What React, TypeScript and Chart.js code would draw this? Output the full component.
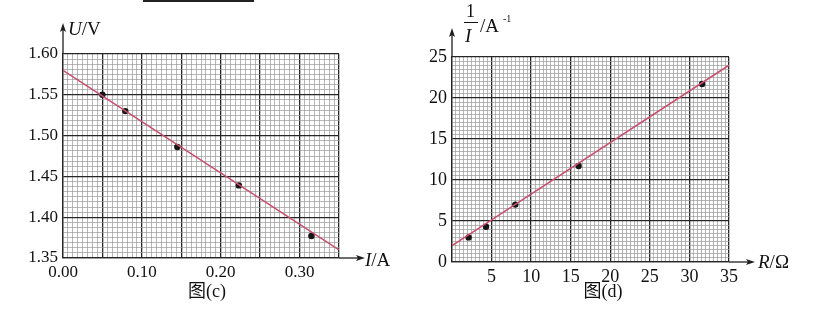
import { useEffect, useRef } from 'react';
import { Chart, registerables } from 'chart.js';

Chart.register(...registerables);

// ---------- Figure (c): U vs I ----------
const currentI = [0.05, 0.079, 0.145, 0.223, 0.315];
const voltageU = [1.55, 1.53, 1.486, 1.439, 1.377];
const fitI = [0, 0.35];
const fitU = [1.58, 1.36];
const cXTickLabels = ['0.00', '0.10', '0.20', '0.30'];
const cYTickLabels = ['1.35', '1.40', '1.45', '1.50', '1.55', '1.60'];

// ---------- Figure (d): 1/I vs R ----------
const resistanceR = [2.1, 4.3, 8.0, 16.0, 31.6];
const inverseI = [3.0, 4.3, 7.0, 11.7, 21.7];
const fitR = [0, 35];
const fitInvI = [2.0, 24.0];
const dXTickLabels = ['5', '10', '15', '20', '25', '30', '35'];
const dYTickLabels = ['0', '5', '10', '15', '20', '25'];

const SERIF = '"Liberation Serif", "Times New Roman", serif';
const LINE_COLOR = '#c8506f';
const MAJOR = '#262626';
const MINOR = '#9a9a9a';

const arrowPlugin = {
  id: 'axisArrows',
  afterDraw(chart: any, _args: any, opts: any) {
    const { ctx, chartArea } = chart;
    const { left, right, top, bottom } = chartArea;
    ctx.save();
    ctx.strokeStyle = '#1e1e1e';
    ctx.fillStyle = '#1e1e1e';
    ctx.lineWidth = 1.3;
    const yTip = top - opts.up;
    ctx.beginPath();
    ctx.moveTo(left, top);
    ctx.lineTo(left, yTip + 5);
    ctx.stroke();
    ctx.beginPath();
    ctx.moveTo(left, yTip);
    ctx.lineTo(left - 3, yTip + 9);
    ctx.lineTo(left, yTip + 7);
    ctx.lineTo(left + 3, yTip + 9);
    ctx.closePath();
    ctx.fill();
    const xTip = right + opts.right;
    ctx.beginPath();
    ctx.moveTo(right, bottom);
    ctx.lineTo(xTip - 5, bottom);
    ctx.stroke();
    ctx.beginPath();
    ctx.moveTo(xTip, bottom);
    ctx.lineTo(xTip - 9, bottom - 3);
    ctx.lineTo(xTip - 7, bottom);
    ctx.lineTo(xTip - 9, bottom + 3);
    ctx.closePath();
    ctx.fill();
    ctx.restore();
  },
};

type Cfg = {
  xs: number[];
  ys: number[];
  fx: number[];
  fy: number[];
  xMin: number;
  xMax: number;
  yMin: number;
  yMax: number;
  xStep: number;
  yStep: number;
  sub: number;
  xLabels: string[];
  yLabels: string[];
  fmt: (v: number) => string;
  fontSize: number;
  yWidth: number;
  padTop: number;
  padRight: number;
  padBottom: number;
  up: number;
  right: number;
};

function buildChart(canvas: HTMLCanvasElement, c: Cfg) {
  const gridColor = (ctx: any) => (ctx.index % c.sub === 0 ? MAJOR : MINOR);
  const gridWidth = (ctx: any) => (ctx.index % c.sub === 0 ? 1.3 : 0.7);
  return new Chart(canvas, {
    type: 'scatter',
    data: {
      datasets: [
        {
          type: 'line',
          data: c.fx.map((x, i) => ({ x, y: c.fy[i] })),
          borderColor: LINE_COLOR,
          borderWidth: 1.6,
          pointRadius: 0,
          showLine: true,
          fill: false,
        } as any,
        {
          data: c.xs.map((x, i) => ({ x, y: c.ys[i] })),
          backgroundColor: '#151515',
          borderWidth: 0,
          pointRadius: 3.2,
        },
      ],
    },
    options: {
      animation: false,
      responsive: false,
      devicePixelRatio: 1,
      layout: { padding: { left: 0, top: c.padTop, right: c.padRight, bottom: c.padBottom } },
      plugins: { legend: { display: false }, tooltip: { enabled: false }, axisArrows: { up: c.up, right: c.right } } as any,
      scales: {
        x: {
          type: 'linear',
          min: c.xMin,
          max: c.xMax,
          afterFit: (s: any) => {
            s.height = 20;
          },
          border: { display: true, color: MAJOR, width: 1.3 },
          grid: { color: gridColor, lineWidth: gridWidth, drawTicks: false },
          ticks: {
            stepSize: c.xStep,
            maxTicksLimit: 1000,
            autoSkip: false,
            maxRotation: 0,
            minRotation: 0,
            padding: 4,
            color: '#111',
            font: { family: SERIF, size: c.fontSize },
            callback: (v: any) => {
              const s = c.fmt(Number(v));
              return c.xLabels.includes(s) ? s : '';
            },
          },
        },
        y: {
          type: 'linear',
          min: c.yMin,
          max: c.yMax,
          afterFit: (s: any) => {
            s.width = c.yWidth;
          },
          border: { display: true, color: MAJOR, width: 1.3 },
          grid: { color: gridColor, lineWidth: gridWidth, drawTicks: false },
          ticks: {
            stepSize: c.yStep,
            maxTicksLimit: 1000,
            autoSkip: false,
            padding: 5,
            color: '#111',
            font: { family: SERIF, size: c.fontSize },
            callback: (v: any) => {
              const s = c.fmt(Number(v));
              return c.yLabels.includes(s) ? s : '';
            },
          },
        },
      },
    } as any,
    plugins: [arrowPlugin as any],
  });
}

function ChartCanvas({ cfg, left, width }: { cfg: Cfg; left: number; width: number }) {
  const ref = useRef<HTMLCanvasElement | null>(null);
  useEffect(() => {
    if (!ref.current) return;
    const ch = buildChart(ref.current, cfg);
    return () => ch.destroy();
  }, []);
  return (
    <canvas
      ref={ref}
      width={width}
      height={312}
      style={{ position: 'absolute', left, top: 0, width, height: 312 }}
    />
  );
}

const cCfg: Cfg = {
  xs: currentI,
  ys: voltageU,
  fx: fitI,
  fy: fitU,
  xMin: 0,
  xMax: 0.35,
  yMin: 1.35,
  yMax: 1.6,
  xStep: 0.05 / 8,
  yStep: 0.05 / 8,
  sub: 8,
  xLabels: cXTickLabels,
  yLabels: cYTickLabels,
  fmt: (v) => v.toFixed(2),
  fontSize: 17,
  yWidth: 63,
  padTop: 54,
  padRight: 416 - 339,
  padBottom: 312 - 258 - 20,
  up: 31,
  right: 26,
};

const dCfg: Cfg = {
  xs: resistanceR,
  ys: inverseI,
  fx: fitR,
  fy: fitInvI,
  xMin: 0,
  xMax: 35,
  yMin: 0,
  yMax: 25,
  xStep: 0.5,
  yStep: 0.5,
  sub: 10,
  xLabels: dXTickLabels,
  yLabels: dYTickLabels,
  fmt: (v) => String(Math.round(v * 100) / 100),
  fontSize: 18,
  yWidth: 452 - 416,
  padTop: 57,
  padRight: 417 - (729 - 416),
  padBottom: 312 - 262 - 20,
  up: 29,
  right: 26,
};

const txt = (extra: any) => ({
  position: 'absolute' as const,
  fontFamily: SERIF + ', "Noto Sans CJK SC"',
  color: '#111',
  fontSize: 19,
  lineHeight: '22px',
  whiteSpace: 'nowrap' as const,
  ...extra,
});

export default function App() {
  return (
    <div
      style={{
        position: 'absolute',
        left: 0,
        top: 0,
        width: 833,
        height: 312,
        background: '#fff',
        overflow: 'hidden',
      }}
    >
      <div style={{ position: 'absolute', left: 143, top: 0, width: 111, height: 2, background: '#222' }} />
      <ChartCanvas cfg={cCfg} left={0} width={416} />
      <ChartCanvas cfg={dCfg} left={416} width={417} />

      {/* Figure (c) labels */}
      <div style={txt({ left: 68, top: 18 })}>
        <i>U</i>/V
      </div>
      <div style={txt({ left: 365, top: 249 })}>
        <i>I</i>/A
      </div>
      <div style={txt({ left: 157, top: 280, width: 100, textAlign: 'center', fontSize: 18 })}>图(c)</div>

      {/* Figure (d) labels */}
      <div style={txt({ left: 466, top: 0, fontSize: 18 })}>1</div>
      <div style={{ position: 'absolute', left: 464, top: 22, width: 14, height: 1.3, background: '#111' }} />
      <div style={txt({ left: 465, top: 25 })}>
        <i>I</i>
      </div>
      <div style={txt({ left: 480, top: 15 })}>/A</div>
      <div style={txt({ left: 503, top: 13, fontSize: 10, lineHeight: '12px' })}>-1</div>
      <div style={txt({ left: 758, top: 251 })}>
        <i>R</i>/Ω
      </div>
      <div style={txt({ left: 553, top: 280, width: 100, textAlign: 'center', fontSize: 18 })}>图(d)</div>
    </div>
  );
}
